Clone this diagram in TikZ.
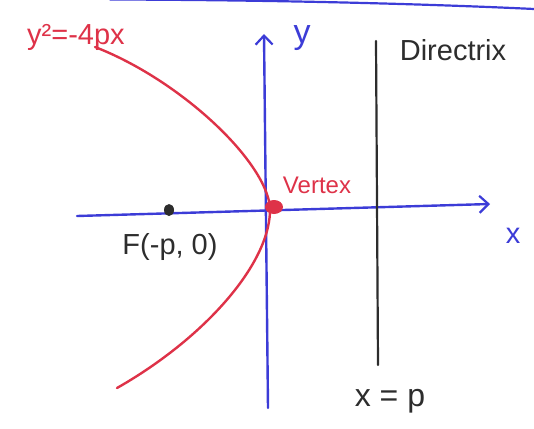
\documentclass[tikz,border=0pt]{standalone}
\usepackage{fontspec}
\setmainfont{Liberation Sans}
\usetikzlibrary{arrows.meta,shapes.geometric}
\definecolor{penblue}{RGB}{60,60,215}
\definecolor{penred}{RGB}{222,50,72}
\definecolor{penblack}{RGB}{45,45,45}
\begin{document}
\begin{tikzpicture}[x=1pt,y=-1pt,line cap=round,line join=round,
  axis/.style={draw=penblue,line width=2.4pt,-{Straight Barb[length=9pt,width=17pt,line width=2.2pt]}},
  lab/.style={font=\fontsize{29}{34}\selectfont,inner sep=0pt}]
  \useasboundingbox (0,0) rectangle (534,428);
  \draw[penblue,line width=2.2pt] (110,-0.5) .. controls (300,0) and (450,5) .. (534,9);
  % axes and directrix
  \coordinate (xl) at (77,216);
  \coordinate (xr) at (490,204);
  \coordinate (yb) at (268,408);
  \coordinate (yt) at (264,34);
  \coordinate (dt) at (376,41);
  \coordinate (db) at (378,365);
  \draw[axis] (xl) -- (xr);
  \draw[axis] (yb) -- (yt);
  \draw[penblack,line width=2.2pt] (dt) -- (db);
  % parabola
  \coordinate (ptop) at (95,47);
  \coordinate (pvx) at (270,207);
  \coordinate (pbot) at (117,388);
  \draw[penred,line width=2.4pt] (ptop) .. controls (180,80) and (265,160) .. (pvx)
    .. controls (272,262) and (205,338) .. (pbot);
  \node[fill=penblack,ellipse,minimum width=10pt,minimum height=12pt,inner sep=0pt] (F) at (169,210) {};
  \node[fill=penred,ellipse,minimum width=18pt,minimum height=14pt,inner sep=0pt] (V) at (274,207) {};
  % labels
  \node[lab,text=penred,anchor=base] (eq) at (76,45) {y²=-4px};
  \node[lab,text=penblue,font=\fontsize{34}{40}\selectfont] (ylab) at (302,38) {y};
  \node[lab,text=penblue] (xlab) at (513,236) {x};
  \node[lab,text=penblack] (dir) at (453,50) {Directrix};
  \node[lab,text=penred,font=\fontsize{24}{28}\selectfont] (vlab) at (317,185) {Vertex};
  \node[lab,text=penblack] (flab) at (170,247) {F(-p, 0)};
  \node[lab,text=penblack,font=\fontsize{32}{38}\selectfont] (plab) at (390,401) {x = p};
\end{tikzpicture}
\end{document}
